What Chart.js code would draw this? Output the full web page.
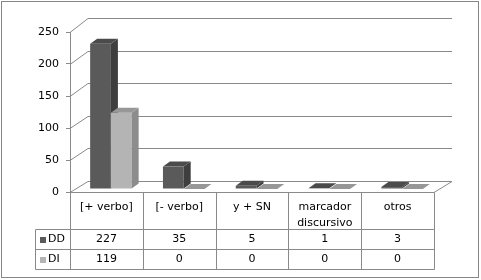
<!DOCTYPE html>
<html lang="es">
<head>
<meta charset="UTF-8">
<title>DD / DI</title>
<style>
    body {
        margin: 0;
        background: #fff;
    }
    canvas {
        display: block;
    }
</style>
</head>
<body>
<canvas id="chart" width="481" height="280"></canvas>

<script src="https://cdn.jsdelivr.net/npm/chart.js"></script>
<script>
    // datos
    const categories = [['[+ verbo]'], ['[- verbo]'], ['y + SN'], ['marcador', 'discursivo'], ['otros']];
    const seriesNames = ['DD', 'DI'];
    const ddValues = [227, 35, 5, 1, 3];
    const diValues = [119, 0, 0, 0, 0];
    const yTicks = [0, 50, 100, 150, 200, 250];

    // colores: frente, lado, arriba
    const faces = [
        { front: '#5a5a5a', side: '#3e3e3e', top: '#4b4b4b' },
        { front: '#b4b4b4', side: '#8c8c8c', top: '#979797' }
    ];
    const lineColor = '#8a8a8a';

    // profundidad del "3D"
    const WALL_DX = 18, WALL_DY = -12;   // pared del fondo
    const BAR_SHIFT_X = 4.5, BAR_SHIFT_Y = -3; // barras un poco hacia dentro
    const BAR_DX = 7, BAR_DY = -5;        // grosor de las barras

    Chart.defaults.font.family = "'DejaVu Sans', Verdana, sans-serif";
    Chart.defaults.font.size = 11;
    Chart.defaults.color = '#000';

    function backY(area, y) {
        return area.bottom + WALL_DY - (area.bottom - y) * 1.014;
    }

    function line(ctx, x1, y1, x2, y2) {
        ctx.beginPath();
        ctx.moveTo(x1, y1);
        ctx.lineTo(x2, y2);
        ctx.stroke();
    }

    // paredes, suelo y lineas de division
    const wallsPlugin = {
        id: 'walls',
        beforeDatasetsDraw(chart) {
            const ctx = chart.ctx;
            const area = chart.chartArea;
            const yScale = chart.scales.y;
            ctx.save();
            ctx.strokeStyle = lineColor;
            ctx.lineWidth = 1;
            yTicks.forEach(v => {
                const y = Math.round(yScale.getPixelForValue(v)) + 0.5;
                const yb = Math.round(backY(area, y)) + 0.5;
                line(ctx, area.left + WALL_DX, yb, area.right + WALL_DX, yb);
                line(ctx, area.left, y, area.left + WALL_DX, yb);
            });
            // suelo
            const y0 = Math.round(area.bottom) + 0.5;
            const yb0 = Math.round(backY(area, y0)) + 0.5;
            line(ctx, area.left, y0, area.right, y0);
            line(ctx, area.right, y0, area.right + WALL_DX, yb0);
            ctx.restore();
        }
    };

    // barras en 3D: frente (el de Chart.js), lado y techo, en el orden DD -> DI
    const barsPlugin = {
        id: 'bars3d',
        beforeDatasetDraw() {
            return false; // se dibujan abajo, en orden
        },
        afterDatasetsDraw(chart) {
            const ctx = chart.ctx;
            ctx.save();
            ctx.translate(BAR_SHIFT_X, BAR_SHIFT_Y);
            chart.data.datasets.forEach((ds, di) => {
                const col = faces[di];
                chart.getDatasetMeta(di).data.forEach(bar => {
                    bar.draw(ctx);
                    const p = bar.getProps(['x', 'y', 'base', 'width'], true);
                    const l = p.x - p.width / 2, r = p.x + p.width / 2;
                    if (p.base - p.y > 0.5) {
                        ctx.fillStyle = col.side;
                        ctx.beginPath();
                        ctx.moveTo(r, p.y);
                        ctx.lineTo(r + BAR_DX, p.y + BAR_DY);
                        ctx.lineTo(r + BAR_DX, p.base + BAR_DY);
                        ctx.lineTo(r, p.base);
                        ctx.closePath();
                        ctx.fill();
                    }
                    ctx.fillStyle = col.top;
                    ctx.beginPath();
                    ctx.moveTo(l, p.y);
                    ctx.lineTo(l + BAR_DX, p.y + BAR_DY);
                    ctx.lineTo(r + BAR_DX, p.y + BAR_DY);
                    ctx.lineTo(r, p.y);
                    ctx.closePath();
                    ctx.fill();
                });
            });
            ctx.restore();
        }
    };

    // tabla de datos debajo del grafico
    const tablePlugin = {
        id: 'dataTable',
        afterDraw(chart) {
            const ctx = chart.ctx;
            const area = chart.chartArea;
            const xScale = chart.scales.x;
            const colW = (area.right - area.left) / categories.length;
            const top = Math.round(area.bottom) + 0.5;
            const rowTop = 229.5, rowMid = 249.5, rowBottom = 269.5;
            const legendLeft = 35.5;
            const rows = [ddValues, diValues];

            ctx.save();
            ctx.strokeStyle = lineColor;
            ctx.lineWidth = 1;
            for (let i = 0; i <= categories.length; i++) {
                const x = Math.round(area.left + i * colW) + 0.5;
                line(ctx, x, top, x, rowBottom);
            }
            [rowTop, rowMid, rowBottom].forEach(y => line(ctx, legendLeft, y, area.right + 0.5, y));
            line(ctx, legendLeft, rowTop, legendLeft, rowBottom);

            ctx.fillStyle = '#000';
            ctx.font = "11px 'DejaVu Sans', Verdana, sans-serif";
            ctx.textAlign = 'center';
            ctx.textBaseline = 'middle';
            categories.forEach((lines, i) => {
                const cx = xScale.getPixelForValue(i);
                lines.forEach((t, k) => ctx.fillText(t, cx, 207 + k * 16));
                rows.forEach((vals, r) => {
                    const cy = r === 0 ? 239.5 : 259.5;
                    ctx.fillText(String(vals[i]), cx, cy);
                });
            });

            // leyenda
            ctx.textAlign = 'left';
            seriesNames.forEach((name, r) => {
                const cy = r === 0 ? 239.5 : 259.5;
                ctx.fillStyle = faces[r].front;
                ctx.fillRect(40, Math.round(cy) - 3, 6, 6);
                ctx.fillStyle = '#000';
                ctx.fillText(name, 48, cy);
            });

            // borde exterior
            ctx.strokeStyle = '#868686';
            ctx.strokeRect(1.5, 1.5, 477, 276);
            ctx.restore();
        }
    };

    const chart = new Chart(document.getElementById('chart'), {
        type: 'bar',
        data: {
            labels: categories,
            datasets: [
                { label: seriesNames[0], data: ddValues, backgroundColor: faces[0].front },
                { label: seriesNames[1], data: diValues, backgroundColor: faces[1].front }
            ]
        },
        options: {
            responsive: false,
            animation: false,
            layout: { padding: { top: 32, right: 47, bottom: 88, left: 0 } },
            plugins: {
                legend: { display: false },
                tooltip: { enabled: false }
            },
            datasets: {
                bar: { categoryPercentage: 0.57, barPercentage: 1 }
            },
            scales: {
                x: { display: false },
                y: {
                    min: 0,
                    max: 250,
                    afterFit: s => { s.width = 70; },
                    afterBuildTicks: s => { s.ticks = yTicks.map(v => ({ value: v })); },
                    ticks: { padding: 7, color: '#000' },
                    grid: { drawOnChartArea: false, drawTicks: true, tickLength: 4, color: lineColor },
                    border: { color: lineColor }
                }
            }
        },
        plugins: [wallsPlugin, barsPlugin, tablePlugin]
    });
</script>
</body>
</html>
